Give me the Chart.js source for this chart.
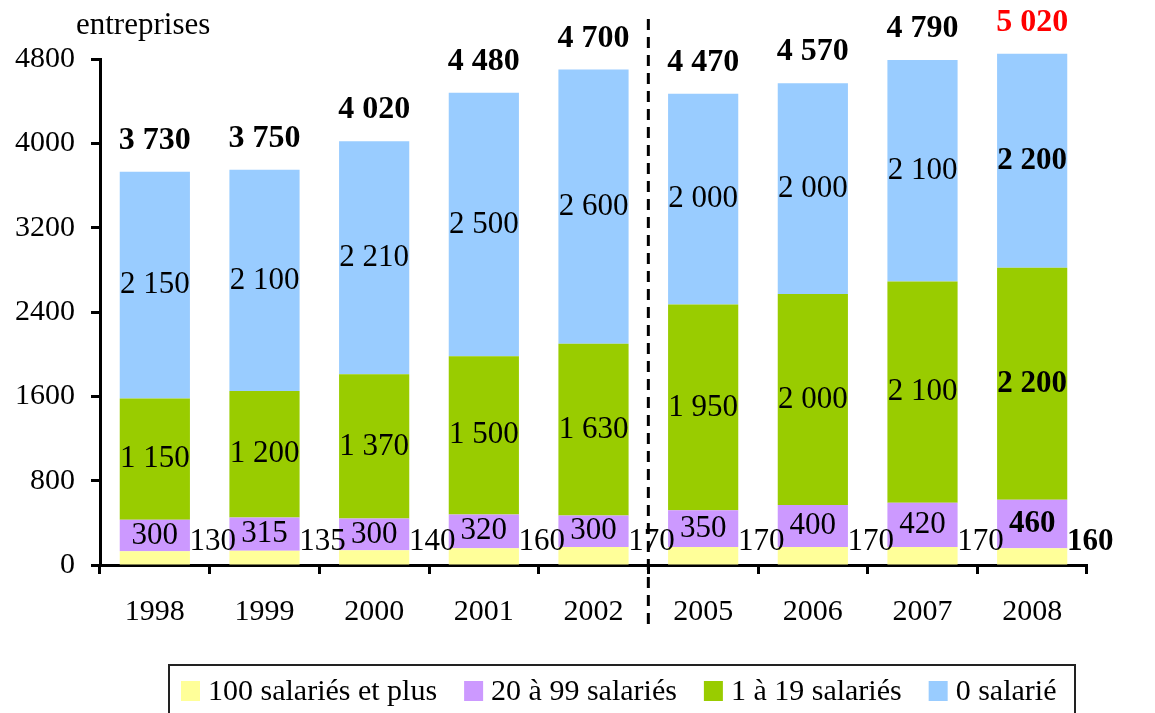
<!DOCTYPE html>
<html>
<head>
<meta charset="utf-8">
<script src="https://cdn.jsdelivr.net/npm/chart.js@4"></script>
<style>
  html, body { margin: 0; padding: 0; background: #fff; }
</style>
</head>
<body>
<canvas id="chart" width="1155" height="713"></canvas>
<script>
// data ====================================
const years = ["1998", "1999", "2000", "2001", "2002", "2005", "2006", "2007", "2008"];
const plus100 = [130, 135, 140, 160, 170, 170, 170, 170, 160];
const from20to99 = [300, 315, 300, 320, 300, 350, 400, 420, 460];
const from1to19 = [1150, 1200, 1370, 1500, 1630, 1950, 2000, 2100, 2200];
// 2008 bar is drawn shorter than its "2 200" label in the original
const zeroSal = [2150, 2100, 2210, 2500, 2600, 2000, 2000, 2100, 2030];
const zeroSalLabels = ["2 150", "2 100", "2 210", "2 500", "2 600", "2 000", "2 000", "2 100", "2 200"];
const totals = [3730, 3750, 4020, 4480, 4700, 4470, 4570, 4790, 5020];
const yTicks = [0, 800, 1600, 2400, 3200, 4000, 4800];
const seriesNames = ["100 salariés et plus", "20 à 99 salariés", "1 à 19 salariés", "0 salarié"];
const seriesColors = ["#FFFF99", "#CC99FF", "#99CC00", "#99CCFF"];

const FONT = "'Liberation Serif', 'Times New Roman', serif";
const fmt = (n) => String(n).replace(/\B(?=(\d{3})+(?!\d))/g, " ");

// labels, totals, separator, legend
const decorations = {
  id: "decorations",
  afterDatasetsDraw(chart) {
    const ctx = chart.ctx;
    const xs = chart.scales.x;
    const last = years.length - 1;
    ctx.save();
    ctx.fillStyle = "#000";
    ctx.textAlign = "center";
    ctx.textBaseline = "middle";

    chart.data.datasets.forEach((ds, di) => {
      const meta = chart.getDatasetMeta(di);
      meta.data.forEach((bar, i) => {
        const bold = i === last ? "bold " : "";
        ctx.font = bold + "31px " + FONT;
        const text = di === 3 ? zeroSalLabels[i] : fmt(ds.data[i]);
        if (di === 0) {
          // small segment: label sits beside the bar
          ctx.fillText(text, bar.x + 58, 542);
        } else {
          ctx.fillText(text, bar.x, (bar.y + bar.base) / 2);
        }
      });
    });

    // totals
    const top = chart.getDatasetMeta(3);
    ctx.textBaseline = "alphabetic";
    top.data.forEach((bar, i) => {
      ctx.font = "bold 32px " + FONT;
      ctx.fillStyle = i === last ? "#FF0000" : "#000";
      ctx.fillText(fmt(totals[i]), bar.x, bar.y - 23);
    });

    // dashed separator between 2002 and 2005
    const sx = (xs.getPixelForValue(4) + xs.getPixelForValue(5)) / 2;
    ctx.strokeStyle = "#000";
    ctx.lineWidth = 3;
    ctx.setLineDash([11, 7]);
    ctx.beginPath();
    ctx.moveTo(sx, 19);
    ctx.lineTo(sx, 630);
    ctx.stroke();
    ctx.setLineDash([]);

    // unit title
    ctx.fillStyle = "#000";
    ctx.textAlign = "left";
    ctx.font = "31px " + FONT;
    ctx.fillText("entreprises", 76, 34);

    // legend box
    ctx.strokeStyle = "#222";
    ctx.lineWidth = 2;
    ctx.strokeRect(169, 665, 906, 60);
    ctx.font = "30px " + FONT;
    let lx = 181;
    seriesNames.forEach((name, i) => {
      ctx.fillStyle = seriesColors[i];
      ctx.fillRect(lx, 681, 19, 20);
      lx += 27;
      ctx.fillStyle = "#000";
      ctx.fillText(name, lx, 700);
      lx += ctx.measureText(name).width + 27;
    });
    ctx.restore();
  }
};

const ctx = document.getElementById("chart").getContext("2d");
new Chart(ctx, {
  type: "bar",
  data: {
    labels: years,
    datasets: [
      { label: seriesNames[0], data: plus100, backgroundColor: seriesColors[0] },
      { label: seriesNames[1], data: from20to99, backgroundColor: seriesColors[1] },
      { label: seriesNames[2], data: from1to19, backgroundColor: seriesColors[2] },
      { label: seriesNames[3], data: zeroSal, backgroundColor: seriesColors[3] },
    ],
  },
  options: {
    responsive: false,
    devicePixelRatio: 1,
    animation: false,
    layout: { padding: { left: 0, top: 59, right: 68, bottom: 0 } },
    datasets: { bar: { categoryPercentage: 1, barPercentage: 0.64, clip: false } },
    plugins: { legend: { display: false }, tooltip: { enabled: false } },
    scales: {
      x: {
        stacked: true,
        afterFit: (s) => { s.height = 148; },
        border: { color: "#000", width: 3 },
        grid: { drawOnChartArea: false, tickLength: 9, tickColor: "#000", tickWidth: 3 },
        ticks: { color: "#000", font: { family: FONT, size: 30 }, padding: 20 },
      },
      y: {
        stacked: true,
        min: 0,
        max: 4800,
        afterFit: (s) => { s.width = 100; },
        afterBuildTicks: (s) => { s.ticks = yTicks.map((v) => ({ value: v })); },
        border: { color: "#000", width: 3 },
        grid: { drawOnChartArea: false, tickLength: 9, tickColor: "#000", tickWidth: 3 },
        ticks: { color: "#000", font: { family: FONT, size: 30 }, padding: 16, callback: (v) => String(v) },
      },
    },
  },
  plugins: [decorations],
});
</script>
</body>
</html>
